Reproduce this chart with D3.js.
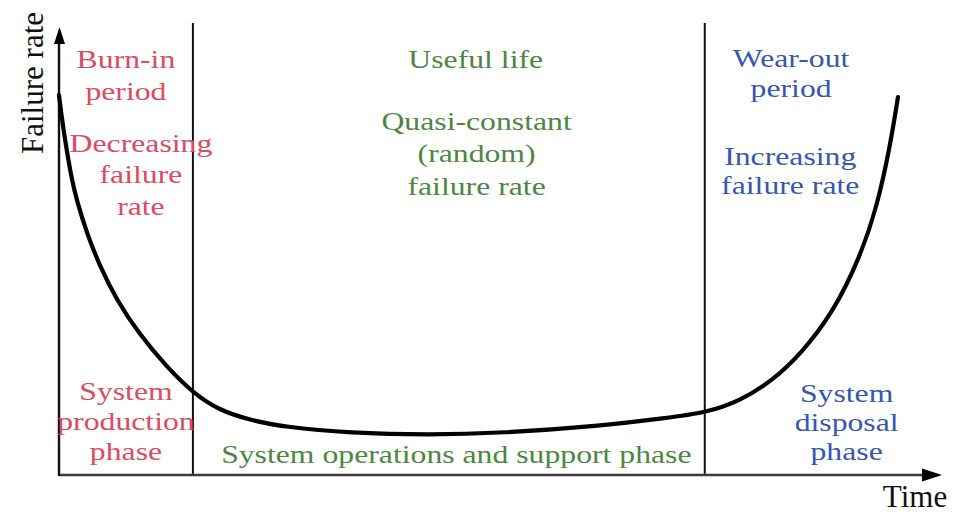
<!DOCTYPE html>
<html><head><meta charset="utf-8">
<script src="https://cdn.jsdelivr.net/npm/d3@7"></script>
<style>body{margin:0;background:#fff}svg{display:block}</style>
</head><body>
<script>
// Bathtub curve: time (0-100) vs failure rate (0-100)
const curveTime = [0, 0.49, 1.44, 2.01, 3.14, 4.68, 6.55, 9.00, 12.22, 15.24, 18.16, 21.68, 25.43, 33.03, 42.11, 50.06, 61.41, 69.01, 73.33, 77.3, 81.04, 84.11, 87.85, 90.92, 92.85, 94.32, 95.23];
const curveRate = [84.4, 76.7, 65.6, 61.1, 53.8, 46.2, 38.9, 31.6, 24.0, 18.2, 14.4, 12.2, 10.7, 9.3, 8.9, 9.3, 10.9, 12.7, 13.8, 16.4, 21.1, 26.7, 36.0, 48.4, 59.6, 72.9, 84.0];
const phaseBoundaries = [15.2, 73.3];

// annotation texts
const burnInTitle = ["Burn-in", "period"];
const burnInDesc = ["Decreasing", "failure", "rate"];
const usefulTitle = ["Useful life"];
const usefulDesc = ["Quasi-constant", "(random)", "failure rate"];
const wearTitle = ["Wear-out", "period"];
const wearDesc = ["Increasing", "failure rate"];
const productionPhase = ["System", "production", "phase"];
const operationsPhase = ["System operations and support phase"];
const disposalPhase = ["System", "disposal", "phase"];
const xAxisTitle = "Time", yAxisTitle = "Failure rate";

const W = 963, H = 527;
const x = d3.scaleLinear().domain([0,100]).range([59,940]);
const y = d3.scaleLinear().domain([0,100]).range([475,25]);

const svg = d3.select("body").append("svg").attr("width",W).attr("height",H);
const font = "'Liberation Serif','Times New Roman',serif";
const red = "#de4a62", green = "#4b8740", blue = "#3457b2";

// phase divider lines
svg.selectAll("line.div").data(phaseBoundaries).enter().append("line")
  .attr("x1",d=>x(d)).attr("x2",d=>x(d)).attr("y1",y(0)).attr("y2",y(100)-2)
  .attr("stroke","#111").attr("stroke-width",2);

// axes
svg.append("line").attr("x1",x(0)).attr("x2",x(100)-14).attr("y1",y(0)).attr("y2",y(0))
  .attr("stroke","#3a3a3a").attr("stroke-width",2.4);
svg.append("line").attr("x1",x(0)).attr("x2",x(0)).attr("y1",y(0)+1).attr("y2",y(100)+12)
  .attr("stroke","#111").attr("stroke-width",2.4);
svg.append("path").attr("d",`M${x(100)+2},${y(0)} L${x(100)-18},${y(0)-6.5} L${x(100)-18},${y(0)+6.5} Z`).attr("fill","#000");
svg.append("path").attr("d",`M${x(0)+0.5},${y(100)+2} L${x(0)-5},${y(100)+19} L${x(0)+6},${y(100)+19} Z`).attr("fill","#000");

// curve
const pts = curveTime.map((t,i)=>[t,curveRate[i]]);
svg.append("path").datum(pts)
  .attr("d", d3.line().x(d=>x(d[0])).y(d=>y(d[1])).curve(d3.curveBasis))
  .attr("fill","none").attr("stroke","#000").attr("stroke-width",4.2).attr("stroke-linecap","round");

// label placement: [lines, center time, first-baseline rate, colour, line height]
const placement = [
  [burnInTitle, 7.6, 90.4, red, 32],
  [burnInDesc, 9.3, 71.8, red, 31.5],
  [usefulTitle, 47.3, 90.4, green, 32],
  [usefulDesc, 47.4, 76.7, green, 32.5],
  [wearTitle, 83.1, 90.6, blue, 30],
  [wearDesc, 83.0, 68.9, blue, 29],
  [productionPhase, 7.6, 16.7, red, 30],
  [operationsPhase, 45.1, 2.7, green, 30],
  [disposalPhase, 89.4, 16.2, blue, 29]
];
placement.forEach(([lines, t, r, color, lh])=>{
  const g = svg.append("g").attr("transform",`translate(${x(t)},${y(r)}) scale(1.22,1)`);
  const txt = g.append("text").attr("font-family",font).attr("font-size",26)
    .attr("fill",color).attr("text-anchor","middle");
  lines.forEach((s,i)=>{
    txt.append("tspan").attr("x",0).attr("y",i*lh).text(s);
  });
});

svg.append("text").attr("font-family",font).attr("font-size",31).attr("fill","#111")
  .attr("text-anchor","middle").attr("x",915).attr("y",507).text(xAxisTitle);
svg.append("text").attr("font-family",font).attr("font-size",31).attr("fill","#111")
  .attr("text-anchor","middle").attr("transform","translate(43,83) rotate(-90)").text(yAxisTitle);
</script>
</body></html>
